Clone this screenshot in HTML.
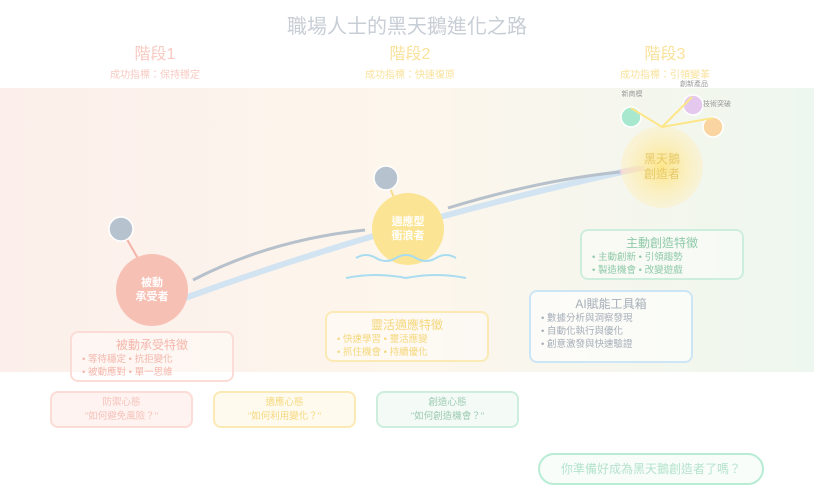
<!DOCTYPE html>
<html><head><meta charset="utf-8"><style>
body{margin:0;width:814px;height:501px;background:#fff;font-family:"Liberation Sans","Noto Sans CJK TC",sans-serif;position:relative;overflow:hidden}
.a{position:absolute}
.t{position:absolute;text-align:center;white-space:nowrap}
.box{position:absolute;border-radius:8px;box-sizing:border-box;border:2px solid}
.box h4{margin:0;text-align:center;font-weight:normal;font-size:12px}
.box p{margin:0 0 0 10px;font-size:9.5px;line-height:13px}
</style></head><body>
<div class="a" style="left:0;top:88px;width:814px;height:284px;background:linear-gradient(90deg,#fcefeb,#fdf6ec 50%,#eef7ef)"></div>
<div class="t" style="left:0;width:814px;top:10px;font-size:20px;color:#c8ced6">職場人士的黑天鵝進化之路</div>
<div class="t" style="left:100px;width:110px;top:40px;font-size:16px;color:#f8cac2">階段1</div>
<div class="t" style="left:355px;width:110px;top:40px;font-size:16px;color:#f9e29c">階段2</div>
<div class="t" style="left:610px;width:110px;top:40px;font-size:16px;color:#f9e29c">階段3</div>
<div class="t" style="left:95px;width:120px;top:66px;font-size:10px;color:#f8cac2">成功指標：保持穩定</div>
<div class="t" style="left:350px;width:120px;top:66px;font-size:10px;color:#f9e29c">成功指標：快速復原</div>
<div class="t" style="left:605px;width:120px;top:66px;font-size:10px;color:#f9e29c">成功指標：引領變革</div>
<svg class="a" style="left:0;top:0" width="814" height="501">
<defs><radialGradient id="g"><stop offset="0" stop-color="#fde68a"/><stop offset="1" stop-color="#fdf0c4" stop-opacity=".5"/></radialGradient></defs>
<path d="M185 298 Q400 220 640 168" stroke="#d2e3f2" stroke-width="6" fill="none"/>
<path d="M193 280 Q270 240 365 230" stroke="#b7c1cc" stroke-width="3" fill="none"/>
<path d="M448 208 Q540 180 620 172" stroke="#b7c1cc" stroke-width="3" fill="none"/>
<path d="M620 172 L645 168" stroke="#e8cbe3" stroke-width="5"/>
<line x1="121" y1="229" x2="140" y2="262" stroke="#f4b3a8" stroke-width="2"/>
<circle cx="121" cy="229" r="12" fill="#b6c2cd" stroke="#fff" stroke-width="1.5"/>
<circle cx="152" cy="290" r="36" fill="#f7c0b4"/>
<line x1="386" y1="178" x2="395" y2="200" stroke="#f8dd8e" stroke-width="2"/>
<circle cx="386" cy="178" r="12" fill="#b6c2cd" stroke="#fff" stroke-width="1.5"/>
<circle cx="408" cy="229" r="36" fill="#fbe594"/>
<path d="M356 258 q10 -6 20 0 q10 6 20 0 q10 -6 20 0 q10 6 20 0 q10 -6 20 0" stroke="#a9dcf0" stroke-width="2" fill="none"/>
<path d="M346 278 q30 -6 60 0 q30 -6 60 0" stroke="#a9dcf0" stroke-width="2" fill="none"/>
<circle cx="662" cy="167" r="41" fill="url(#g)"/>
<circle cx="631" cy="117" r="10" fill="#a7e8cf" stroke="#fff" stroke-width="1.5"/>
<circle cx="693" cy="105" r="10" fill="#e4c8ee" stroke="#fff" stroke-width="1.5"/>
<circle cx="713" cy="127" r="10" fill="#fbd5a1" stroke="#fff" stroke-width="1.5"/>
<g stroke="#fde68a" stroke-width="2"><line x1="662" y1="127" x2="631" y2="108"/><line x1="662" y1="127" x2="692" y2="97"/><line x1="662" y1="127" x2="713" y2="118"/></g>
</svg>
<div class="t" style="left:117px;width:70px;top:276px;font-size:11px;line-height:14px;color:#fff;font-weight:bold">被動<br>承受者</div>
<div class="t" style="left:373px;width:70px;top:215px;font-size:11px;line-height:14px;color:#fff;font-weight:bold">適應型<br>衝浪者</div>
<div class="t" style="left:627px;width:70px;top:152px;font-size:12px;line-height:15px;color:#e7c96a">黑天鵝<br>創造者</div>
<div class="t" style="left:612px;width:40px;top:89px;font-size:7px;color:#999">新商模</div>
<div class="t" style="left:672px;width:44px;top:79px;font-size:7px;color:#999">創新產品</div>
<div class="t" style="left:695px;width:44px;top:99px;font-size:7px;color:#999">技術突破</div>
<div class="box" style="left:70px;top:331px;width:164px;height:51px;border-color:#fbdcd6;color:#f4b6ab;background:rgba(255,255,255,.4)"><h4 style="margin-top:3px">被動承受特徵</h4><p>• 等待穩定 • 抗拒變化</p><p>• 被動應對 • 單一思維</p></div>
<div class="box" style="left:325px;top:311px;width:164px;height:51px;border-color:#fbeab5;color:#f5d87c;background:rgba(255,255,255,.4)"><h4 style="margin-top:3px">靈活適應特徵</h4><p>• 快速學習 • 靈活應變</p><p>• 抓住機會 • 持續優化</p></div>
<div class="box" style="left:580px;top:229px;width:164px;height:51px;border-color:#cdeedd;color:#8fcaa9;background:rgba(255,255,255,.4)"><h4 style="margin-top:3px">主動創造特徵</h4><p>• 主動創新 • 引領趨勢</p><p>• 製造機會 • 改變遊戲</p></div>
<div class="box" style="left:529px;top:290px;width:164px;height:73px;border-color:#cde6f5;color:#a6aeb8;background:rgba(255,255,255,.6)"><h4 style="margin-top:3px">AI賦能工具箱</h4><p>• 數據分析與洞察發現</p><p>• 自動化執行與優化</p><p>• 創意激發與快速驗證</p></div>
<div class="box" style="left:50px;top:391px;width:143px;height:37px;border-color:#fbdcd6;background:#fff3f1;color:#f4c1b8;font-size:9.5px;text-align:center;line-height:14px;padding-top:3px">防禦心態<br>"如何避免風險？"</div>
<div class="box" style="left:213px;top:391px;width:143px;height:37px;border-color:#fbeab5;background:#fffaee;color:#f5d87c;font-size:9.5px;text-align:center;line-height:14px;padding-top:3px">適應心態<br>"如何利用變化？"</div>
<div class="box" style="left:376px;top:391px;width:143px;height:37px;border-color:#cdeedd;background:#f4fbf7;color:#9ccab0;font-size:9.5px;text-align:center;line-height:14px;padding-top:3px">創造心態<br>"如何創造機會？"</div>
<div class="box" style="left:538px;top:453px;width:226px;height:32px;border-radius:16px;border-color:#b8ecd4;background:#f8fdfa;color:#b5e3cc;font-size:12px;text-align:center;line-height:28px">你準備好成為黑天鵝創造者了嗎？</div>
</body></html>
